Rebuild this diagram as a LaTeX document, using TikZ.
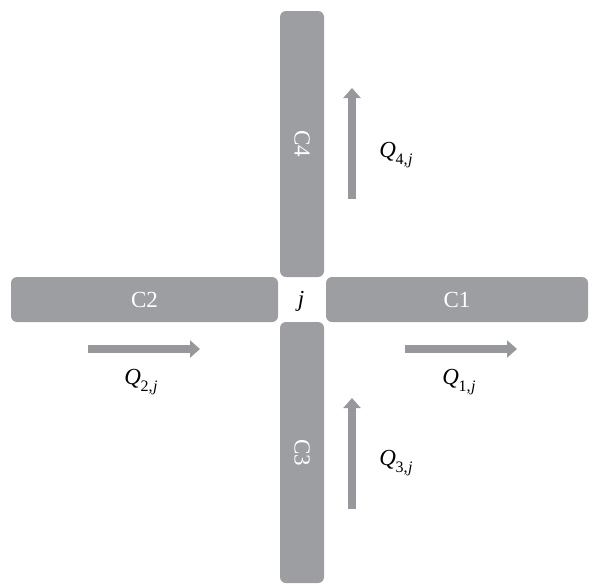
\documentclass[tikz,border=0pt]{standalone}
\usepackage{fontspec}
\setmainfont{Liberation Serif}
\usetikzlibrary{arrows.meta}
\definecolor{bargray}{RGB}{157,158,162}
\definecolor{arrowgray}{RGB}{150,152,156}
\newcommand{\flowlab}[1]{\textit{Q}\kern-0.5pt\raisebox{-0.3em}{\fontsize{16}{16}\selectfont #1,\kern0.5pt\textit{j}}}
\tikzset{
  bar/.style={draw=none, fill=bargray, rounded corners=6pt, inner sep=0pt,
    text=white, font=\fontsize{23}{23}\selectfont},
  vbar/.style={bar, minimum width=44pt},
  hbar/.style={bar, minimum height=45pt},
  flow/.style={draw=arrowgray, line width=8pt,
    -{Triangle[length=10pt,width=17pt]}},
  lab/.style={font=\fontsize{23}{23}\selectfont, inner sep=1pt}
}
\begin{document}
\begin{tikzpicture}[x=1pt,y=-1pt]
\useasboundingbox (0,0) rectangle (593,584);
% bars
\node[vbar, minimum height=266pt] (c4) at (302,144) {};
\node[vbar, minimum height=261pt] (c3) at (302,452.5) {};
\node[hbar, minimum width=267pt] (c2) at (144.5,299.5) {C2};
\node[hbar, minimum width=262pt] (c1) at (457,299.5) {C1};
\node[rotate=-90, text=white, font=\fontsize{23}{23}\selectfont] (c4l) at (c4) {C4};
\node[rotate=-90, text=white, font=\fontsize{23}{23}\selectfont] (c3l) at (c3) {C3};
% junction
\node[lab] (j) at (301,301) {\textit{j}};
% flows
\coordinate (a2s) at (88,349); \coordinate (a2e) at (200,349);
\coordinate (a1s) at (405,349); \coordinate (a1e) at (517,349);
\coordinate (a4s) at (352,199); \coordinate (a4e) at (352,88);
\coordinate (a3s) at (352,509); \coordinate (a3e) at (352,398);
\draw[flow] (a2s) -- (a2e);
\draw[flow] (a1s) -- (a1e);
\draw[flow] (a4s) -- (a4e);
\draw[flow] (a3s) -- (a3e);
% labels
\node[lab] (q2) at (141,382) {\flowlab{2}};
\node[lab] (q1) at (459,382) {\flowlab{1}};
\node[lab] (q4) at (396,155) {\flowlab{4}};
\node[lab] (q3) at (396,463) {\flowlab{3}};
\end{tikzpicture}
\end{document}
